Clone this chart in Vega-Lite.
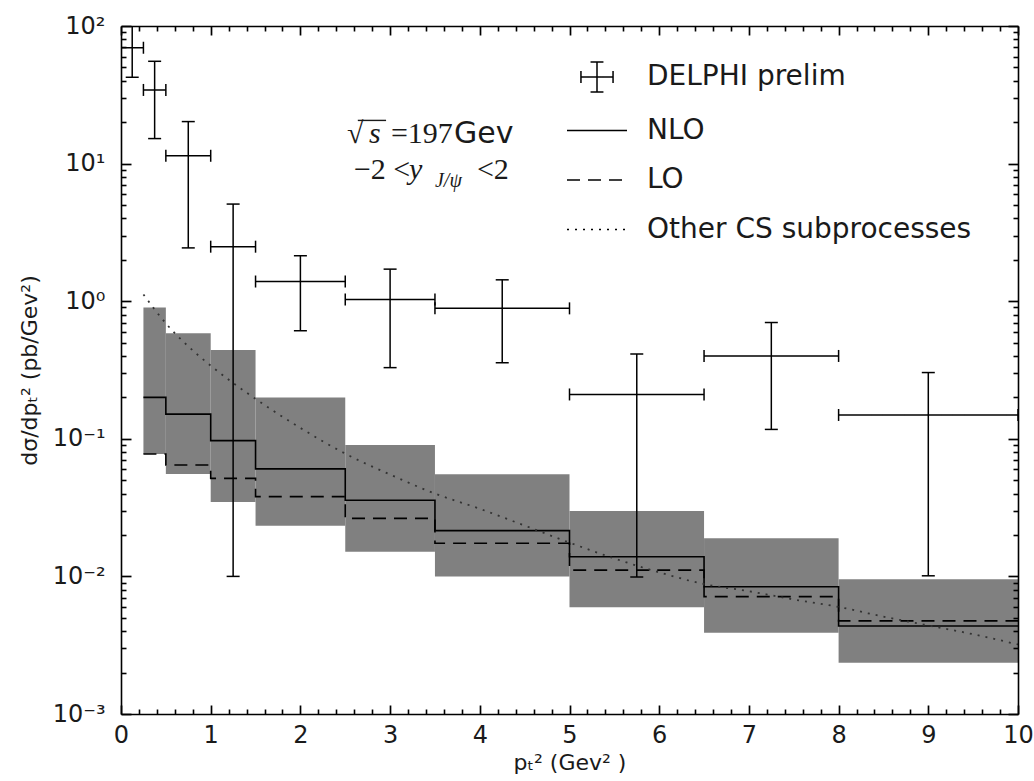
{
  "$schema": "https://vega.github.io/schema/vega-lite/v6.json",
  "width": 897,
  "height": 688,
  "autosize": "none",
  "padding": {"left": 121, "top": 26, "right": 16, "bottom": 67},
  "background": "white",
  "config": {"view": {"stroke": null}, "font": "DejaVu Sans"},
  "datasets": {
    "bins": [
      {"x0": 0.25, "x1": 0.5, "band_lo": 0.0776, "band_hi": 0.90},
      {"x0": 0.5, "x1": 1.0, "band_lo": 0.0556, "band_hi": 0.585},
      {"x0": 1.0, "x1": 1.5, "band_lo": 0.0347, "band_hi": 0.442},
      {"x0": 1.5, "x1": 2.5, "band_lo": 0.0233, "band_hi": 0.20},
      {"x0": 2.5, "x1": 3.5, "band_lo": 0.0151, "band_hi": 0.090},
      {"x0": 3.5, "x1": 5.0, "band_lo": 0.0100, "band_hi": 0.0552},
      {"x0": 5.0, "x1": 6.5, "band_lo": 0.00596, "band_hi": 0.0299},
      {"x0": 6.5, "x1": 8.0, "band_lo": 0.0039, "band_hi": 0.0189},
      {"x0": 8.0, "x1": 10.0, "band_lo": 0.00236, "band_hi": 0.00953}
    ],
    "steps": [
      {"series": "NLO", "x": 0.25, "y": 0.200},
      {"series": "NLO", "x": 0.5, "y": 0.151},
      {"series": "NLO", "x": 1.0, "y": 0.097},
      {"series": "NLO", "x": 1.5, "y": 0.0605},
      {"series": "NLO", "x": 2.5, "y": 0.0358},
      {"series": "NLO", "x": 3.5, "y": 0.0215},
      {"series": "NLO", "x": 5.0, "y": 0.0139},
      {"series": "NLO", "x": 6.5, "y": 0.0084},
      {"series": "NLO", "x": 8.0, "y": 0.00436},
      {"series": "NLO", "x": 10.0, "y": 0.00436},
      {"series": "LO", "x": 0.25, "y": 0.0776},
      {"series": "LO", "x": 0.5, "y": 0.0645},
      {"series": "LO", "x": 1.0, "y": 0.0516},
      {"series": "LO", "x": 1.5, "y": 0.038},
      {"series": "LO", "x": 2.5, "y": 0.0264},
      {"series": "LO", "x": 3.5, "y": 0.0174},
      {"series": "LO", "x": 5.0, "y": 0.0111},
      {"series": "LO", "x": 6.5, "y": 0.00713},
      {"series": "LO", "x": 8.0, "y": 0.00475},
      {"series": "LO", "x": 10.0, "y": 0.00475}
    ],
    "other": [
      {"x": 0.25, "y": 1.12},
      {"x": 0.5, "y": 0.69},
      {"x": 0.75, "y": 0.47},
      {"x": 1.0, "y": 0.34},
      {"x": 1.5, "y": 0.195},
      {"x": 2.0, "y": 0.12},
      {"x": 2.5, "y": 0.078},
      {"x": 3.0, "y": 0.055},
      {"x": 3.5, "y": 0.040},
      {"x": 4.0, "y": 0.031},
      {"x": 4.5, "y": 0.0234},
      {"x": 5.0, "y": 0.0176},
      {"x": 5.5, "y": 0.0135},
      {"x": 6.0, "y": 0.0107},
      {"x": 6.5, "y": 0.0088},
      {"x": 7.0, "y": 0.0078},
      {"x": 7.5, "y": 0.0068},
      {"x": 8.0, "y": 0.0060},
      {"x": 8.5, "y": 0.0051},
      {"x": 9.0, "y": 0.0044},
      {"x": 9.5, "y": 0.0038},
      {"x": 10.0, "y": 0.0032}
    ],
    "delphi": [
      {"xc": 0.125, "xlo": 0.0, "xhi": 0.25, "y": 69.5, "ylo": 42.4, "yhi": 120},
      {"xc": 0.375, "xlo": 0.25, "xhi": 0.5, "y": 34.3, "ylo": 15.2, "yhi": 55.4},
      {"xc": 0.75, "xlo": 0.5, "xhi": 1.0, "y": 11.4, "ylo": 2.44, "yhi": 20.2},
      {"xc": 1.25, "xlo": 1.0, "xhi": 1.5, "y": 2.49, "ylo": 0.01, "yhi": 5.08},
      {"xc": 2.0, "xlo": 1.5, "xhi": 2.5, "y": 1.39, "ylo": 0.61, "yhi": 2.14},
      {"xc": 3.0, "xlo": 2.5, "xhi": 3.5, "y": 1.03, "ylo": 0.329, "yhi": 1.71},
      {"xc": 4.25, "xlo": 3.5, "xhi": 5.0, "y": 0.887, "ylo": 0.357, "yhi": 1.43},
      {"xc": 5.75, "xlo": 5.0, "xhi": 6.5, "y": 0.21, "ylo": 0.0099, "yhi": 0.413},
      {"xc": 7.25, "xlo": 6.5, "xhi": 8.0, "y": 0.40, "ylo": 0.117, "yhi": 0.70},
      {"xc": 9.0, "xlo": 8.0, "xhi": 10.0, "y": 0.149, "ylo": 0.0101, "yhi": 0.303}
    ]
  },
  "layer": [
    {
      "data": {"name": "bins"},
      "mark": {"type": "rect", "color": "#808080"},
      "encoding": {
        "x": {
          "field": "x0", "type": "quantitative",
          "scale": {"domain": [0, 10], "nice": false, "zero": false},
          "axis": {
            "orient": "bottom", "zindex": 1,
            "values": [0,1,2,3,4,5,6,7,8,9,10],
            "format": "d",
            "tickSize": -9, "tickColor": "black", "tickWidth": 1.7,
            "domainColor": "black", "domainWidth": 1.6,
            "grid": false,
            "labelPadding": 18, "labelFont": "DejaVu Sans", "labelFontSize": 24, "labelColor": "#1a1a1a",
            "labelOverlap": false, "labelFlush": false,
            "title": "pₜ² (Gev² )", "titleFont": "DejaVu Sans", "titleFontSize": 22, "titleFontWeight": "normal", "titleColor": "#1a1a1a", "titlePadding": 5
          }
        },
        "x2": {"field": "x1"},
        "y": {
          "field": "band_lo", "type": "quantitative",
          "scale": {"type": "log", "domain": [0.001, 100], "nice": false},
          "axis": {
            "orient": "left", "zindex": 1,
            "values": [0.001, 0.01, 0.1, 1, 10, 100],
            "labelExpr": "datum.value == 100 ? '10²' : datum.value == 10 ? '10¹' : datum.value == 1 ? '10⁰' : datum.value == 0.1 ? '10⁻¹' : datum.value == 0.01 ? '10⁻²' : '10⁻³'",
            "tickSize": -10, "tickColor": "black", "tickWidth": 1.7,
            "domainColor": "black", "domainWidth": 1.6,
            "grid": false,
            "labelPadding": 26, "labelFont": "DejaVu Sans", "labelFontSize": 24, "labelColor": "#1a1a1a",
            "labelOverlap": false, "labelFlush": false,
            "title": "dσ/dpₜ² (pb/Gev²)", "titleFont": "DejaVu Sans", "titleFontSize": 22, "titleFontWeight": "normal", "titleColor": "#1a1a1a", "titlePadding": 11
          }
        },
        "y2": {"field": "band_hi"}
      }
    },
    {
      "data": {"name": "steps"},
      "mark": {"type": "line", "interpolate": "step-after", "color": "black", "strokeWidth": 1.6, "clip": true},
      "encoding": {
        "x": {
          "field": "x", "type": "quantitative",
          "axis": {
            "orient": "top", "zindex": 1, "values": [0,1,2,3,4,5,6,7,8,9,10], "labels": false,
            "tickSize": -9, "tickColor": "black", "tickWidth": 1.7,
            "domainColor": "black", "domainWidth": 1.6, "grid": false, "title": null
          }
        },
        "y": {
          "field": "y", "type": "quantitative",
          "axis": {
            "orient": "right", "zindex": 1, "values": [0.001, 0.01, 0.1, 1, 10, 100], "labels": false,
            "tickSize": -10, "tickColor": "black", "tickWidth": 1.7,
            "domainColor": "black", "domainWidth": 1.6, "grid": false, "title": null
          }
        },
        "strokeDash": {
          "field": "series", "type": "nominal",
          "scale": {
            "domain": ["DELPHI prelim", "NLO", "LO", "Other CS subprocesses"],
            "range": [[1, 0], [1, 0], [13, 8], [2, 6]]
          },
          "legend": {
            "orient": "none", "legendX": 460, "legendY": 35, "title": null,
            "symbolType": "M-2,0H2", "symbolSize": 900,
            "symbolStrokeColor": "black", "symbolStrokeWidth": 1.5, "symbolFillColor": "transparent",
            "labelFont": "DejaVu Sans", "labelFontSize": 28, "labelColor": "#1a1a1a",
            "labelOffset": 34, "rowPadding": 19.5, "padding": 0, "labelLimit": 600,
            "encode": {
              "symbols": {
                "update": {
                  "shape": {"signal": "datum.value === 'DELPHI prelim' ? 'M-1.07,0H1.07M0,-1V1M-1.07,-0.4V0.4M1.07,-0.4V0.4M-0.43,-1H0.43M-0.43,1H0.43' : 'M-2,0H2'"}
                }
              }
            }
          }
        }
      }
    },
    {
      "data": {"name": "other"},
      "mark": {"type": "line", "interpolate": "monotone", "color": "#333333", "strokeWidth": 1.8, "clip": true},
      "encoding": {
        "x": {
          "field": "x", "type": "quantitative",
          "axis": {
            "orient": "bottom", "zindex": 1,
            "values": [0.2,0.4,0.6,0.8,1.2,1.4,1.6,1.8,2.2,2.4,2.6,2.8,3.2,3.4,3.6,3.8,4.2,4.4,4.6,4.8,5.2,5.4,5.6,5.8,6.2,6.4,6.6,6.8,7.2,7.4,7.6,7.8,8.2,8.4,8.6,8.8,9.2,9.4,9.6,9.8],
            "labels": false, "domain": false,
            "tickSize": -5, "tickColor": "black", "tickWidth": 1.6, "grid": false, "title": null
          }
        },
        "y": {
          "field": "y", "type": "quantitative",
          "axis": {
            "orient": "left", "zindex": 1,
            "values": [0.002,0.003,0.004,0.005,0.006,0.007,0.008,0.009,0.02,0.03,0.04,0.05,0.06,0.07,0.08,0.09,0.2,0.3,0.4,0.5,0.6,0.7,0.8,0.9,2,3,4,5,6,7,8,9,20,30,40,50,60,70,80,90],
            "labels": false, "domain": false,
            "tickSize": -5, "tickColor": "black", "tickWidth": 1.6, "grid": false, "title": null
          }
        },
        "strokeDash": {"datum": "Other CS subprocesses", "type": "nominal"}
      }
    },
    {
      "data": {"name": "delphi"},
      "mark": {"type": "rule", "color": "black", "strokeWidth": 1.5, "clip": true},
      "encoding": {
        "x": {
          "field": "xc", "type": "quantitative",
          "axis": {
            "orient": "top", "zindex": 1,
            "values": [0.2,0.4,0.6,0.8,1.2,1.4,1.6,1.8,2.2,2.4,2.6,2.8,3.2,3.4,3.6,3.8,4.2,4.4,4.6,4.8,5.2,5.4,5.6,5.8,6.2,6.4,6.6,6.8,7.2,7.4,7.6,7.8,8.2,8.4,8.6,8.8,9.2,9.4,9.6,9.8],
            "labels": false, "domain": false,
            "tickSize": -5, "tickColor": "black", "tickWidth": 1.6, "grid": false, "title": null
          }
        },
        "y": {
          "field": "ylo", "type": "quantitative",
          "axis": {
            "orient": "right", "zindex": 1,
            "values": [0.002,0.003,0.004,0.005,0.006,0.007,0.008,0.009,0.02,0.03,0.04,0.05,0.06,0.07,0.08,0.09,0.2,0.3,0.4,0.5,0.6,0.7,0.8,0.9,2,3,4,5,6,7,8,9,20,30,40,50,60,70,80,90],
            "labels": false, "domain": false,
            "tickSize": -5, "tickColor": "black", "tickWidth": 1.6, "grid": false, "title": null
          }
        },
        "y2": {"field": "yhi"},
        "strokeDash": {"datum": "DELPHI prelim", "type": "nominal"}
      }
    },
    {
      "data": {"name": "delphi"},
      "mark": {"type": "rule", "color": "black", "strokeWidth": 1.5, "clip": true},
      "encoding": {
        "x": {"field": "xlo", "type": "quantitative", "axis": null},
        "x2": {"field": "xhi"},
        "y": {"field": "y", "type": "quantitative", "axis": null},
        "strokeDash": {"datum": "DELPHI prelim", "type": "nominal"}
      }
    },
    {
      "data": {"name": "delphi"},
      "mark": {"type": "tick", "orient": "horizontal", "size": 13, "thickness": 1.5, "color": "black", "opacity": 1, "clip": true},
      "encoding": {
        "x": {"field": "xc", "type": "quantitative", "axis": null},
        "y": {"field": "ylo", "type": "quantitative", "axis": null}
      }
    },
    {
      "data": {"name": "delphi"},
      "mark": {"type": "tick", "orient": "horizontal", "size": 13, "thickness": 1.5, "color": "black", "opacity": 1, "clip": true},
      "encoding": {
        "x": {"field": "xc", "type": "quantitative", "axis": null},
        "y": {"field": "yhi", "type": "quantitative", "axis": null}
      }
    },
    {
      "data": {"name": "delphi"},
      "mark": {"type": "tick", "orient": "vertical", "size": 12, "thickness": 1.5, "color": "black", "opacity": 1, "clip": true},
      "encoding": {
        "x": {"field": "xlo", "type": "quantitative", "axis": null},
        "y": {"field": "y", "type": "quantitative", "axis": null}
      }
    },
    {
      "data": {"name": "delphi"},
      "mark": {"type": "tick", "orient": "vertical", "size": 12, "thickness": 1.5, "color": "black", "opacity": 1, "clip": true},
      "encoding": {
        "x": {"field": "xhi", "type": "quantitative", "axis": null},
        "y": {"field": "y", "type": "quantitative", "axis": null}
      }
    },
    {
      "data": {"values": [{}]},
      "mark": {"type": "text", "text": "√", "font": "Liberation Serif", "fontSize": 30, "align": "left", "baseline": "alphabetic", "dx": -88, "color": "#1a1a1a"},
      "encoding": {"x": {"datum": 3.5, "type": "quantitative", "axis": null}, "y": {"datum": 14.1, "type": "quantitative", "axis": null}}
    },
    {
      "data": {"values": [{}]},
      "mark": {"type": "rule", "color": "#1a1a1a", "strokeWidth": 1.4},
      "encoding": {"x": {"datum": 2.64, "type": "quantitative", "axis": null}, "x2": {"datum": 2.955}, "y": {"datum": 20.6, "type": "quantitative", "axis": null}}
    },
    {
      "data": {"values": [{}]},
      "mark": {"type": "text", "text": "s", "font": "Liberation Serif", "fontStyle": "italic", "fontSize": 30, "align": "left", "baseline": "alphabetic", "dx": -66, "color": "#1a1a1a"},
      "encoding": {"x": {"datum": 3.5, "type": "quantitative", "axis": null}, "y": {"datum": 14.1, "type": "quantitative", "axis": null}}
    },
    {
      "data": {"values": [{}]},
      "mark": {"type": "text", "text": "=197", "font": "Liberation Serif", "fontSize": 30, "align": "left", "baseline": "alphabetic", "dx": -44, "color": "#1a1a1a"},
      "encoding": {"x": {"datum": 3.5, "type": "quantitative", "axis": null}, "y": {"datum": 14.1, "type": "quantitative", "axis": null}}
    },
    {
      "data": {"values": [{}]},
      "mark": {"type": "text", "text": "Gev", "font": "DejaVu Sans", "fontSize": 30, "align": "left", "baseline": "alphabetic", "dx": 19, "color": "#1a1a1a"},
      "encoding": {"x": {"datum": 3.5, "type": "quantitative", "axis": null}, "y": {"datum": 14.1, "type": "quantitative", "axis": null}}
    },
    {
      "data": {"values": [{}]},
      "mark": {"type": "text", "text": "−2 <", "font": "Liberation Serif", "fontSize": 30, "align": "left", "baseline": "alphabetic", "dx": -81, "color": "#1a1a1a"},
      "encoding": {"x": {"datum": 3.5, "type": "quantitative", "axis": null}, "y": {"datum": 7.73, "type": "quantitative", "axis": null}}
    },
    {
      "data": {"values": [{}]},
      "mark": {"type": "text", "text": "y", "font": "Liberation Serif", "fontStyle": "italic", "fontSize": 30, "align": "left", "baseline": "alphabetic", "dx": -26, "color": "#1a1a1a"},
      "encoding": {"x": {"datum": 3.5, "type": "quantitative", "axis": null}, "y": {"datum": 7.73, "type": "quantitative", "axis": null}}
    },
    {
      "data": {"values": [{}]},
      "mark": {"type": "text", "text": "J/ψ", "font": "Liberation Serif", "fontStyle": "italic", "fontSize": 20, "align": "left", "baseline": "alphabetic", "dx": 0, "dy": 8, "color": "#1a1a1a"},
      "encoding": {"x": {"datum": 3.5, "type": "quantitative", "axis": null}, "y": {"datum": 7.73, "type": "quantitative", "axis": null}}
    },
    {
      "data": {"values": [{}]},
      "mark": {"type": "text", "text": "<2", "font": "Liberation Serif", "fontSize": 30, "align": "left", "baseline": "alphabetic", "dx": 42, "color": "#1a1a1a"},
      "encoding": {"x": {"datum": 3.5, "type": "quantitative", "axis": null}, "y": {"datum": 7.73, "type": "quantitative", "axis": null}}
    }
  ],
  "resolve": {"axis": {"x": "independent", "y": "independent"}}
}
